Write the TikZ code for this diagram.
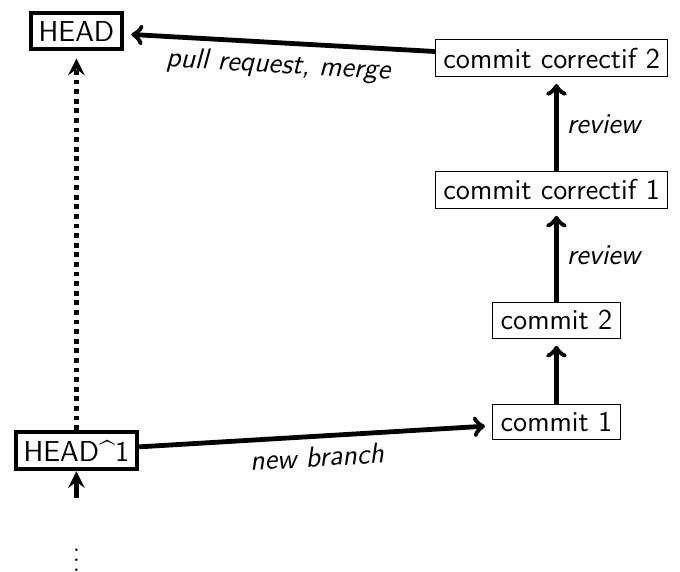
\documentclass[tikz,border=0pt]{standalone}
\usetikzlibrary{arrows}
\tikzstyle{headbox} = [
    draw,
    rectangle,
    ultra thick,
    font=\sffamily\large
]
\tikzstyle{commitbox} = [
    draw,
    rectangle,
    font=\sffamily\large
]
\tikzstyle{arrow} = [
    line width=2pt,
    ->,
    shorten >=3pt
]
\tikzstyle{lbl} = [
    font=\sffamily\itshape\large
]

\begin{document}
\begin{tikzpicture}
        \useasboundingbox (0,0) rectangle (9.96,-8.37);
        \node (head) [headbox] at (1.12,-0.46) {HEAD};
        \node (head1) [headbox] at (1.12,-6.60) {HEAD\textasciicircum 1};
        \node (dots) at (1.12,-8.10) {$\vdots$};
        \node (c1) [commitbox] at (8.15,-6.18) {commit 1};
        \node (c2) [commitbox] at (8.15,-4.69) {commit 2};
        \node (cc1) [commitbox] at (8.08,-2.78) {commit correctif 1};
        \node (cc2) [commitbox] at (8.08,-0.85) {commit correctif 2};

        \draw[line width=2pt, -stealth, shorten <=12pt] (dots) -- (head1);
        \draw[line width=2pt, dash pattern=on 2pt off 2pt, -stealth, shorten >=3pt] (head1) -- (head);
        \draw[arrow] (head1) -- (c1) node[lbl, midway, below, sloped] {new branch};
        \draw[arrow] (c1) -- (c2);
        \draw[arrow] (c2) -- (c2 |- cc1.south) node[lbl, midway, right] {review};
        \draw[arrow] (c2 |- cc1.north) -- (c2 |- cc2.south) node[lbl, midway, right] {review};
        \draw[arrow] (cc2) -- (head) node[lbl, midway, below, sloped] {pull request, merge};
    \end{tikzpicture}
\end{document}
